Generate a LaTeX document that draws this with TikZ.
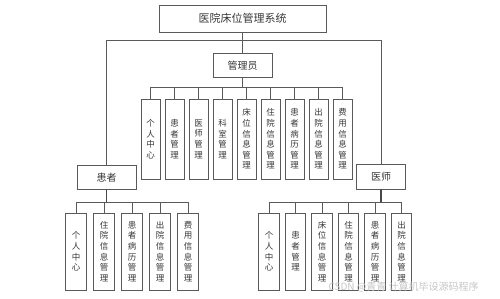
\documentclass[tikz,border=0pt]{standalone}
\usepackage{fontspec}
\newfontfamily\cjk{Noto Sans CJK SC}
\usetikzlibrary{positioning}
\definecolor{bdGray}{RGB}{90,90,90}
\definecolor{txGray}{RGB}{55,55,55}
\tikzset{
    base/.style={font=\cjk, text=txGray, align=center, inner sep=0pt},
    sysbox/.style={base, draw=bdGray, line width=0.8pt, minimum width=167pt,
                   minimum height=27pt, font=\cjk\fontsize{11}{13}\selectfont},
    rolebox/.style={base, draw=bdGray, line width=0.8pt, minimum width=59pt,
                    minimum height=24pt, font=\cjk\fontsize{10}{12}\selectfont},
    leaf/.style={base, draw=bdGray, line width=0.8pt, minimum height=77pt,
                 font=\cjk\fontsize{8.5}{10.6}\selectfont},
    wire/.style={draw=bdGray, line width=0.7pt},
    stem/.style={draw=bdGray!80!black, line width=1.2pt},
    wmark/.style={font=\cjk\fontsize{10}{12}\selectfont, text=gray!45, anchor=west}
}

\begin{document}
\begin{tikzpicture}[x=1pt, y=-1pt]
  \useasboundingbox (0,0) rectangle (500,298);
  \node[sysbox] (sys) at (242.5,18.5) {医院床位管理系统};
  \node[rolebox] (admin) at (242.5,65.5) {管理员};
  \node[rolebox, minimum height=23.5pt] (pat) at (106.5,177.5) {患者};
  \node[rolebox, minimum width=49pt, minimum height=25pt] (doc) at (381,176.5) {医师};
  \coordinate (top) at (0,40.7);
  \coordinate (abus) at (0,87);
  \coordinate (pbus) at (0,202);
  \coordinate (dbus) at (0,202.3);

  % admin leaves
  \foreach \t [count=\i] in {个\\人\\中\\心, 患\\者\\管\\理, 医\\师\\管\\理, 科\\室\\管\\理,
      床\\位\\信\\息\\管\\理, 住\\院\\信\\息\\管\\理, 患\\者\\病\\历\\管\\理,
      出\\院\\信\\息\\管\\理, 费\\用\\信\\息\\管\\理}
    \node[leaf, minimum width=19pt, minimum height=80pt] (a\i) at ({126.5+24*\i},139) {\t};
  % patient leaves
  \foreach \t [count=\i] in {个\\人\\中\\心, 住\\院\\信\\息\\管\\理, 患\\者\\病\\历\\管\\理,
      出\\院\\信\\息\\管\\理, 费\\用\\信\\息\\管\\理}
    \node[leaf, minimum width=21pt] (p\i) at ({48+28*\i},251.5) {\t};
  % doctor leaves
  \foreach \t [count=\i] in {个\\人\\中\\心, 患\\者\\管\\理, 床\\位\\信\\息\\管\\理,
      住\\院\\信\\息\\管\\理, 患\\者\\病\\历\\管\\理, 出\\院\\信\\息\\管\\理}
    \node[leaf, minimum width=20.5pt] (d\i) at ({242.5+26.5*\i},251.5) {\t};

  \draw[wire] (sys.south) -- (sys.south |- top);
  \draw[wire] (pat.north) -- (pat.north |- top) -- (doc.north |- top) -- (doc.north);
  \draw[wire] (admin.north) -- (admin.north |- top);

  \draw[wire] (admin.south) -- (admin.south |- abus);
  \draw[wire] (a1.north |- abus) -- (a9.north |- abus);
  \foreach \i in {1,...,9}
    \draw[wire] (a\i.north |- abus) -- (a\i.north);

  \draw[stem] (pat.south) -- (pat.south |- pbus);
  \draw[wire] (p1.north |- pbus) -- (p5.north |- pbus);
  \foreach \i in {1,...,5}
    \draw[wire] (p\i.north |- pbus) -- (p\i.north);

  \draw[stem] (doc.south) -- (doc.south |- dbus);
  \draw[wire] (d1.north |- dbus) -- (d6.north |- dbus);
  \foreach \i in {1,...,6}
    \draw[wire] (d\i.north |- dbus) -- (d\i.north);

  \node[wmark] (wm) at (325,287) {CSDN @青青 计算机毕设源码程序};
\end{tikzpicture}
\end{document}
